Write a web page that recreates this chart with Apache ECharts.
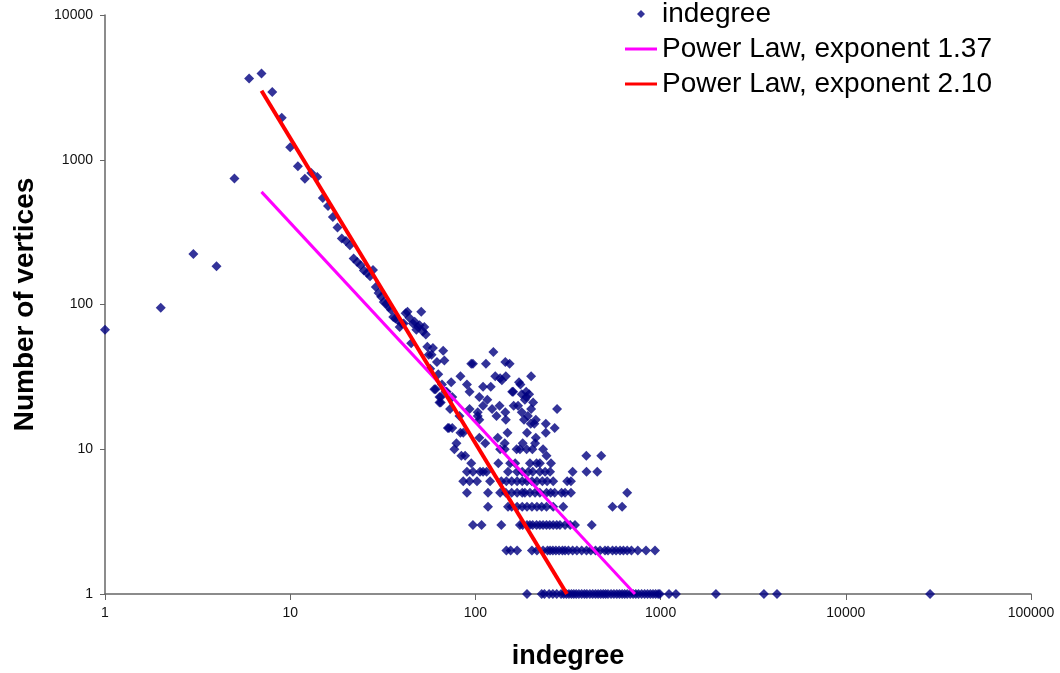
<!DOCTYPE html>
<html>
<head>
<meta charset="utf-8">
<title>indegree distribution</title>
<script src="https://cdn.jsdelivr.net/npm/echarts@6/dist/echarts.min.js"></script>
<style>
  html, body { margin: 0; padding: 0; background: #fff; }
  #chart { width: 1060px; height: 673px; }
</style>
</head>
<body>
<div id="chart"></div>
<script>
// low indegree values, one point per k: [indegree, vertices]
const headPoints = [
  [1, 67], [2, 95], [3, 223], [4, 184], [5, 743], [6, 3640], [7, 3950], [8, 2940],
  [9, 1950], [10, 1220], [11, 900], [12, 740], [13, 810], [14, 760], [15, 545],
  [16, 480], [17, 403], [18, 341], [19, 286], [20, 275], [21, 257], [22, 208],
  [23, 197], [24, 187], [25, 172], [26, 165], [27, 157], [28, 173], [29, 132],
  [30, 120], [31, 113], [32, 104], [33, 101], [34, 96], [35, 92], [36, 82],
  [37, 80], [38, 78], [39, 70], [40, 74], [41, 74], [42, 87], [43, 89], [44, 81],
  [45, 54], [46, 74], [47, 76], [48, 67], [49, 70], [50, 72], [51, 89], [52, 65],
  [53, 70], [54, 62], [55, 51], [56, 45], [57, 36], [58, 45], [59, 50], [60, 26],
  [62, 40], [63, 33], [64, 23], [65, 21], [66, 28], [67, 48], [68, 41], [69, 25],
  [71, 14], [73, 19], [75, 14], [83, 13]
];

// scattered cloud, counts above 11
const cloudPoints = [
  [97, 39], [83, 32], [90, 28], [103, 18], [125, 47], [95, 39], [114, 39],
  [145, 40], [153, 39], [74, 29], [128, 32], [136, 31], [146, 32], [110, 27],
  [121, 27], [172, 29], [61, 26], [70, 25], [93, 25], [158, 25], [188, 25],
  [65, 23], [75, 23], [105, 23], [116, 22], [188, 23], [64, 21], [110, 20],
  [135, 20], [161, 20], [93, 19], [123, 19], [82, 17], [103, 17], [105, 16],
  [146, 16], [192, 17], [199, 15], [72, 14], [86, 13], [105, 12], [132, 12],
  [149, 13], [212, 12], [200, 32], [276, 19], [268, 14], [240, 15], [240, 13],
  [208, 15], [139, 30], [175, 28], [160, 25], [185, 22], [145, 18], [130, 17],
  [183, 16], [212, 16], [190, 13], [178, 24], [195, 24], [205, 21], [170, 20],
  [200, 19], [178, 18]
];

// indegree values sitting on each integer count row
const row11 = [79, 113, 144, 180, 210];
const row10 = [77, 136, 144, 167, 174, 189, 203, 232];
const row9 = [84, 88, 242, 397, 478];
const row8 = [95, 133, 154, 164, 197, 214, 223, 256];
const row7 = [90, 97, 106, 110, 115, 150, 168, 179, 193, 204, 223, 238, 253, 335, 398, 455];
const row6 = [86, 93, 102, 120, 138, 147, 157, 168, 179, 190, 202, 215, 230, 244, 263, 313, 328];
const row5 = [90, 117, 136, 146, 157, 168, 179, 185, 197, 210, 223, 242, 255, 268, 292, 305, 328, 660];
const row4 = [117, 150, 157, 168, 179, 190, 202, 215, 228, 242, 263, 298, 550, 620];
const row3 = [97, 108, 138, 174, 180, 190, 197, 204, 214, 223, 232, 242, 252, 263, 275, 286,
  305, 325, 345, 425];
const row2 = [147, 155, 168, 202, 215, 232, 245, 253, 262, 272, 283, 295, 305, 318, 335, 353,
  375, 398, 420, 445, 471, 501, 520, 550, 575, 604, 630, 660, 696, 753, 834, 933];
const row1 = [190, 228, 236, 250, 262, 275, 290, 300, 310, 320, 330, 340, 350, 362, 375, 388,
  400, 415, 430, 445, 460, 475, 490, 505, 520, 540, 560, 580, 600, 620, 640, 660, 685, 710,
  735, 760, 790, 820, 850, 880, 910, 940, 970, 990, 1110, 1210, 1990, 3614, 4250, 28500];

// fitted power laws, end points
const powerLaw137 = [[7, 600], [727, 1]];
const powerLaw210 = [[7, 3000], [312, 1]];

const xTicks = [1, 10, 100, 1000, 10000, 100000];
const yTicks = [1, 10, 100, 1000, 10000];

const rows = [row1, row2, row3, row4, row5, row6, row7, row8, row9, row10, row11];
let indegreeData = headPoints.concat(cloudPoints);
rows.forEach((ks, i) => {
  ks.forEach(k => indegreeData.push([k, i + 1]));
});

const fmt = v => String(Math.round(v));

let chart = echarts.init(document.getElementById('chart'));
const font = '"Liberation Sans", Arial, sans-serif';

let option = {
  animation: false,
  backgroundColor: '#fff',
  textStyle: { fontFamily: font },
  grid: {
    left: 105,
    right: 29,
    top: 15,
    bottom: 79,
    containLabel: false,
    outerBoundsMode: 'none',
  },
  legend: {
    orient: 'vertical',
    left: 625,
    top: 0,
    padding: 0,
    itemWidth: 32,
    itemHeight: 8,
    itemGap: 7,
    symbolKeepAspect: true,
    textStyle: { fontSize: 28, color: '#000', fontFamily: font },
    data: [
      { name: 'indegree', icon: 'path://M0,-1L1,0L0,1L-1,0Z' },
      { name: 'Power Law, exponent 1.37', icon: 'path://M0,0H32V3H0Z' },
      { name: 'Power Law, exponent 2.10', icon: 'path://M0,0H32V3H0Z' },
    ],
  },
  xAxis: {
    type: 'log',
    logBase: 10,
    min: xTicks[0],
    max: xTicks[xTicks.length - 1],
    name: 'indegree',
    nameLocation: 'middle',
    nameGap: 49,
    nameTextStyle: { fontSize: 27, fontWeight: 'bold', color: '#000', fontFamily: font },
    axisLine: { lineStyle: { color: '#666', width: 1.5 } },
    axisTick: { show: true, inside: false, length: 6, lineStyle: { color: '#666' } },
    minorTick: { show: false },
    axisLabel: { formatter: fmt, fontSize: 14, color: '#111', margin: 12 },
    splitLine: { show: false },
  },
  yAxis: {
    type: 'log',
    logBase: 10,
    min: yTicks[0],
    max: yTicks[yTicks.length - 1],
    name: 'Number of vertices',
    nameLocation: 'middle',
    nameGap: 66,
    nameTextStyle: { fontSize: 28, fontWeight: 'bold', color: '#000', fontFamily: font },
    axisLine: { show: true, lineStyle: { color: '#666', width: 1.5 } },
    axisTick: { show: true, inside: false, length: 5, lineStyle: { color: '#666' } },
    minorTick: { show: false },
    axisLabel: { formatter: fmt, fontSize: 14, color: '#111', margin: 12 },
    splitLine: { show: false },
  },
  series: [
    {
      name: 'indegree',
      type: 'scatter',
      symbol: 'diamond',
      symbolSize: 10,
      clip: false,
      itemStyle: { color: '#000080' },
      data: indegreeData,
    },
    {
      name: 'Power Law, exponent 1.37',
      type: 'line',
      symbol: 'none',
      lineStyle: { color: '#FF00FF', width: 3 },
      itemStyle: { color: '#FF00FF' },
      data: powerLaw137,
    },
    {
      name: 'Power Law, exponent 2.10',
      type: 'line',
      symbol: 'none',
      lineStyle: { color: '#FF0000', width: 4 },
      itemStyle: { color: '#FF0000' },
      data: powerLaw210,
    },
  ],
};

chart.setOption(option);
</script>
</body>
</html>
